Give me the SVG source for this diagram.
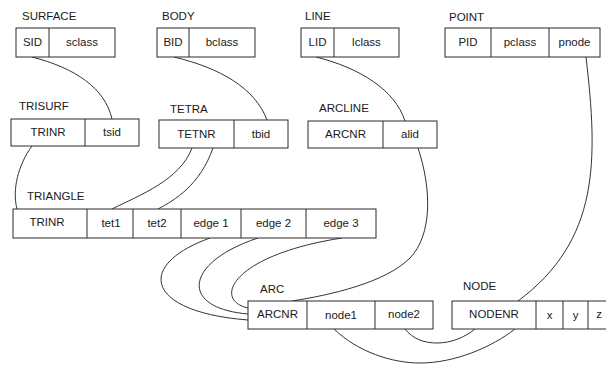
<svg xmlns="http://www.w3.org/2000/svg" width="606" height="365" viewBox="0 0 606 365">
  <style>
    .box { fill: #ffffff; stroke: #2a2a2a; stroke-width: 1; }
    .div { stroke: #2a2a2a; stroke-width: 1; }
    .cell { font-family: "Liberation Sans", Arial, sans-serif; font-size: 11.5px; fill: #1a1a1a; text-anchor: middle; }
    .title { font-family: "Liberation Sans", Arial, sans-serif; font-size: 11.5px; fill: #1a1a1a; }
    .link { fill: none; stroke: #333333; stroke-width: 1; }
  </style>
  <rect width="606" height="365" fill="#ffffff"/>

  <!-- connectors -->
  <g id="connectors">
    <path class="link" d="M32,57 C75,68 105,88 112,119"/>
    <path class="link" d="M174,57 C220,68 255,88 267,120"/>
    <path class="link" d="M316,57 C360,68 395,90 405,121"/>
    <path class="link" d="M586,57 C598,160 600,240 518,301"/>
    <path class="link" d="M32,146 C18,165 12,190 17,209"/>
    <path class="link" d="M192,148 C180,180 140,195 112,209"/>
    <path class="link" d="M213,148 C200,185 175,200 158,209"/>
    <path class="link" d="M210,238 C135,265 145,312 248,320"/>
    <path class="link" d="M258,238 C185,262 178,308 248,314"/>
    <path class="link" d="M342,238 C232,255 212,300 248,308"/>
    <path class="link" d="M418,148 C432,190 432,235 410,258 C385,283 330,295 292,301"/>
    <path class="link" d="M334,329 C358,352 392,363 420,363 C455,363 492,347 515,329"/>
    <path class="link" d="M405,329 C413,339 424,343 437,343 C452,343 465,337 475,329"/>
  </g>

  <g id="surface">
    <text class="title" x="22" y="20">SURFACE</text>
    <rect class="box" x="16" y="28" width="99" height="29"/>
    <line class="div" x1="49" y1="28" x2="49" y2="57"/>
    <text class="cell" x="32.5" y="46">SID</text>
    <text class="cell" x="82" y="46">sclass</text>
  </g>

  <g id="body">
    <text class="title" x="162" y="20">BODY</text>
    <rect class="box" x="157" y="28" width="98" height="29"/>
    <line class="div" x1="189" y1="28" x2="189" y2="57"/>
    <text class="cell" x="173" y="46">BID</text>
    <text class="cell" x="222" y="46">bclass</text>
  </g>

  <g id="line">
    <text class="title" x="305" y="20">LINE</text>
    <rect class="box" x="301" y="28" width="98" height="29"/>
    <line class="div" x1="334" y1="28" x2="334" y2="57"/>
    <text class="cell" x="317.5" y="46">LID</text>
    <text class="cell" x="366.5" y="46">lclass</text>
  </g>

  <g id="point">
    <text class="title" x="449" y="21">POINT</text>
    <rect class="box" x="445" y="28" width="155" height="29"/>
    <line class="div" x1="491" y1="28" x2="491" y2="57"/>
    <line class="div" x1="549" y1="28" x2="549" y2="57"/>
    <text class="cell" x="468" y="46">PID</text>
    <text class="cell" x="520" y="46">pclass</text>
    <text class="cell" x="574.5" y="46">pnode</text>
  </g>

  <g id="trisurf">
    <text class="title" x="19" y="110">TRISURF</text>
    <rect class="box" x="11" y="119" width="128" height="27"/>
    <line class="div" x1="85" y1="119" x2="85" y2="146"/>
    <text class="cell" x="48" y="136">TRINR</text>
    <text class="cell" x="112" y="136">tsid</text>
  </g>

  <g id="tetra">
    <text class="title" x="170" y="113">TETRA</text>
    <rect class="box" x="159" y="120" width="129" height="28"/>
    <line class="div" x1="234" y1="120" x2="234" y2="148"/>
    <text class="cell" x="196.5" y="138">TETNR</text>
    <text class="cell" x="261" y="138">tbid</text>
  </g>

  <g id="arcline">
    <text class="title" x="319" y="112">ARCLINE</text>
    <rect class="box" x="308" y="121" width="129" height="27"/>
    <line class="div" x1="383" y1="121" x2="383" y2="148"/>
    <text class="cell" x="345.5" y="138">ARCNR</text>
    <text class="cell" x="410" y="138">alid</text>
  </g>

  <g id="triangle">
    <text class="title" x="27" y="200">TRIANGLE</text>
    <rect class="box" x="13" y="209" width="363" height="29"/>
    <line class="div" x1="87" y1="209" x2="87" y2="238"/>
    <line class="div" x1="133" y1="209" x2="133" y2="238"/>
    <line class="div" x1="181" y1="209" x2="181" y2="238"/>
    <line class="div" x1="241" y1="209" x2="241" y2="238"/>
    <line class="div" x1="306" y1="209" x2="306" y2="238"/>
    <text class="cell" x="47" y="226">TRINR</text>
    <text class="cell" x="111" y="227">tet1</text>
    <text class="cell" x="157" y="227">tet2</text>
    <text class="cell" x="211" y="227">edge 1</text>
    <text class="cell" x="273.5" y="227">edge 2</text>
    <text class="cell" x="341" y="227">edge 3</text>
  </g>

  <g id="arc">
    <text class="title" x="260" y="293">ARC</text>
    <rect class="box" x="248" y="301" width="185" height="28"/>
    <line class="div" x1="307" y1="301" x2="307" y2="329"/>
    <line class="div" x1="375" y1="301" x2="375" y2="329"/>
    <text class="cell" x="277.5" y="318">ARCNR</text>
    <text class="cell" x="341" y="319">node1</text>
    <text class="cell" x="404" y="318">node2</text>
  </g>

  <g id="node">
    <text class="title" x="463" y="290">NODE</text>
    <rect class="box" x="452" y="301" width="160" height="28"/>
    <line class="div" x1="536" y1="301" x2="536" y2="329"/>
    <line class="div" x1="563" y1="301" x2="563" y2="329"/>
    <line class="div" x1="588" y1="301" x2="588" y2="329"/>
    <text class="cell" x="494" y="318">NODENR</text>
    <text class="cell" x="549.5" y="319">x</text>
    <text class="cell" x="575.5" y="319">y</text>
    <text class="cell" x="599" y="318">z</text>
  </g>
</svg>
